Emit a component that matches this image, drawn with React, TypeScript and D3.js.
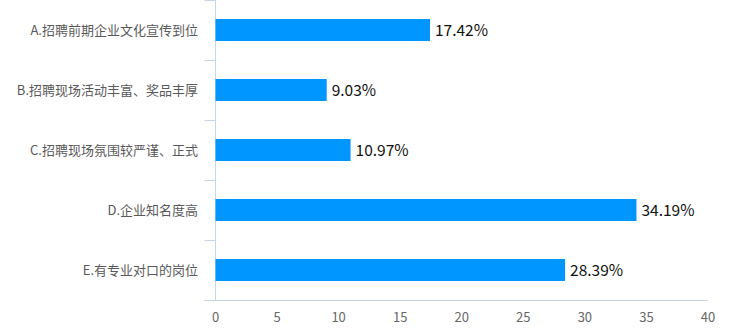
import React from "react";
import * as d3 from "d3";

const categories = [
  "A.招聘前期企业文化宣传到位",
  "B.招聘现场活动丰富、奖品丰厚",
  "C.招聘现场氛围较严谨、正式",
  "D.企业知名度高",
  "E.有专业对口的岗位",
];
const values = [17.42, 9.03, 10.97, 34.19, 28.39];
const xTicks = [0, 5, 10, 15, 20, 25, 30, 35, 40];

const W = 753;
const H = 330;
const left = 215.5;
const right = 708;
const top = 0;
const bottom = 300.5;
const font = "'Microsoft YaHei', 'Noto Sans CJK SC', sans-serif";

export default function App() {
  const x = d3.scaleLinear().domain([0, 40]).range([left, right]);
  const y = d3
    .scaleBand<string>()
    .domain(categories)
    .range([top, bottom - 0.5])
    .paddingInner(0.6333)
    .paddingOuter(0.3167);
  const step = y.step();
  const boundaries = d3.range(categories.length + 1).map((i) => top + i * step);
  const axisColor = "#c5d5ea";

  return (
    <svg
      width={W}
      height={H}
      style={{ position: "absolute", left: 0, top: 0, background: "#fff" }}
    >
      <line x1={left} x2={left} y1={top} y2={bottom} stroke={axisColor} strokeWidth={1} />
      {boundaries.map((b, i) => (
        <line
          key={i}
          x1={left - 11}
          x2={left}
          y1={Math.round(b) + 0.5}
          y2={Math.round(b) + 0.5}
          stroke={axisColor}
        />
      ))}
      <line x1={left - 11} x2={right} y1={bottom} y2={bottom} stroke={axisColor} />
      {xTicks.map((t) => (
        <text
          key={t}
          x={x(t)}
          y={322}
          textAnchor="middle"
          fontSize={13}
          fill="#666"
          fontFamily={font}
        >
          {t}
        </text>
      ))}
      {categories.map((c, i) => (
        <g key={c}>
          <rect
            x={x(0)}
            y={y(c)}
            width={x(values[i]) - x(0)}
            height={y.bandwidth()}
            fill="#0096ff"
          />
          <text
            x={198}
            y={(y(c) as number) + y.bandwidth() / 2}
            dy="0.35em"
            textAnchor="end"
            fontSize={13}
            fill="#595959"
            fontFamily={font}
          >
            {c}
          </text>
          <text
            x={x(values[i]) + 5}
            y={(y(c) as number) + y.bandwidth() / 2}
            dy="0.36em"
            fontSize={15.5}
            fill="#111"
            fontFamily={font}
          >
            {values[i].toFixed(2) + "%"}
          </text>
        </g>
      ))}
    </svg>
  );
}
